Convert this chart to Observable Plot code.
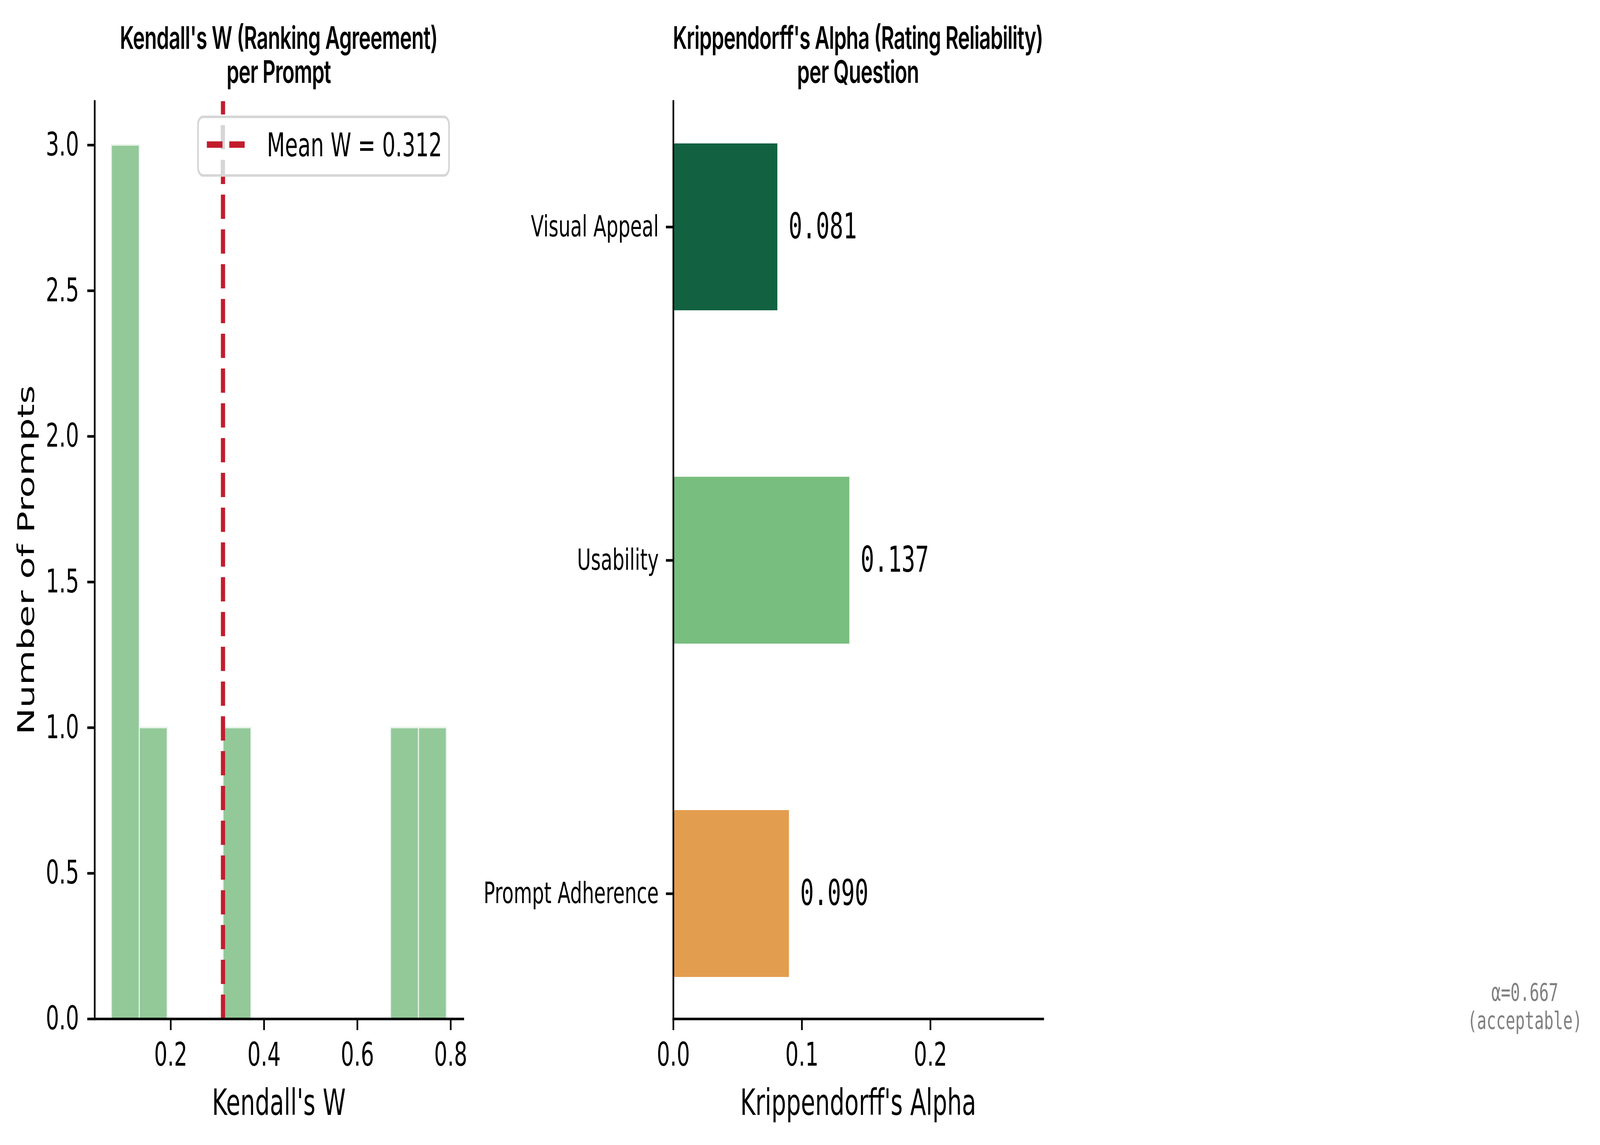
<!DOCTYPE html>
<html><head><meta charset="utf-8">
<script src="https://cdn.jsdelivr.net/npm/d3@7"></script>
<script src="https://cdn.jsdelivr.net/npm/@observablehq/plot@0.6"></script>
<style>
html,body{margin:0;padding:0;background:#fff;overflow:hidden;}
#root{position:relative;width:6343px;height:2930px;overflow:hidden;background:#fff;transform-origin:0 0;}
#root > svg{position:absolute;}
</style></head><body><div id="root"></div>
<script>
// ---- data ----
const kendallW = [0.073, 0.080, 0.095, 0.140, 0.320, 0.685, 0.791];
const histBinCount = 12;
const questions = ["Visual Appeal", "Usability", "Prompt Adherence"];
const alphaValues = [0.081, 0.137, 0.090];
const questionColors = ["#126241", "#78be7e", "#e39d4e"];
const wTicks = [0.2, 0.4, 0.6, 0.8];
const countTicks = [0, 0.5, 1, 1.5, 2, 2.5, 3];
const alphaTicks = [0, 0.1, 0.2];
const overallAlpha = 0.667;
const overallVerdict = "acceptable";
const leftTitle = ["Kendall's W (Ranking Agreement)", "per Prompt"];
const rightTitle = ["Krippendorff's Alpha (Rating Reliability)", "per Question"];

// ---- layout (in reference pixels) ----
const W = 6343, H = 2930;
const TOP = 259, BOTTOM = 2607;
const LW = 16.7, DASH = "62,27", RED = "#c21d2d", SPINE = 6.7;
const root = document.getElementById("root");
const f1 = d3.format(".1f"), f3 = d3.format(".3f");

const meanW = d3.mean(kendallW);
const [wMin, wMax] = d3.extent(kendallW);
const stepW = (wMax - wMin) / histBinCount;
const edges = d3.range(1, histBinCount).map(i => wMin + i * stepW);
const bins = d3.bin().domain([wMin, wMax]).thresholds(edges)(kendallW);
const padW = (wMax - wMin) * 0.05;
const yMax = d3.max(bins, b => b.length) * 1.05;

const baseStyle = {fontFamily: "DejaVu Sans", fontSize: "83px", background: "transparent", color: "black", overflow: "visible", maxWidth: "none"};

const left = Plot.plot({
  width: 1900, height: H,
  marginLeft: 375, marginRight: 64, marginTop: TOP, marginBottom: H - BOTTOM,
  style: baseStyle,
  x: {domain: [wMin - padW, wMax + padW]},
  y: {domain: [0, yMax]},
  marks: [
    Plot.rectY(bins, {x1: "x0", x2: "x1", y: b => b.length, fill: "#93c999", stroke: "#e9f4eb", strokeWidth: 4.2, inset: 0}),
    Plot.ruleX([meanW], {y1: 0, y2: yMax, stroke: RED, strokeWidth: LW, strokeDasharray: DASH}),
    Plot.frame({anchor: "left", strokeWidth: SPINE}),
    Plot.frame({anchor: "bottom", strokeWidth: SPINE}),
    Plot.axisX({ticks: wTicks, tickFormat: f1, tickSize: 29, tickPadding: 32, strokeWidth: SPINE, fontSize: 83, label: null}),
    Plot.axisY({ticks: countTicks, tickFormat: f1, tickSize: 29, tickPadding: 33, strokeWidth: SPINE, fontSize: 83, label: null})
  ]
});
left.style.left = "0px"; left.style.top = "0px";
root.appendChild(left);

const alphaData = questions.map((q, i) => ({question: q, alpha: alphaValues[i]}));
const right = Plot.plot({
  width: 2400, height: H,
  marginLeft: 769, marginRight: 165, marginTop: TOP, marginBottom: H - BOTTOM,
  style: baseStyle,
  x: {domain: [0, d3.max(alphaValues) * 2.1]},
  y: {domain: questions, paddingInner: 0.5, paddingOuter: 0.125},
  color: {domain: questions, range: questionColors},
  marks: [
    Plot.barX(alphaData, {x: "alpha", y: "question", fill: "question"}),
    Plot.text(alphaData, {x: "alpha", y: "question", text: d => f3(d.alpha), textAnchor: "start", dx: 44, fontFamily: "DejaVu Sans Mono", fontSize: 90, fill: "black"}),
    Plot.frame({anchor: "left", strokeWidth: SPINE}),
    Plot.frame({anchor: "bottom", strokeWidth: SPINE}),
    Plot.axisX({ticks: alphaTicks, tickFormat: f1, tickSize: 29, tickPadding: 32, strokeWidth: SPINE, fontSize: 83, label: null}),
    Plot.axisY({tickSize: 29, tickPadding: 29, strokeWidth: SPINE, fontSize: 75, label: null})
  ]
});
right.style.left = "1900px"; right.style.top = "0px";
root.appendChild(right);

// ---- overlay: titles, axis labels, legend, note ----
const NS = "http://www.w3.org/2000/svg";
const ov = document.createElementNS(NS, "svg");
ov.setAttribute("width", W); ov.setAttribute("height", H);
ov.style.left = "0px"; ov.style.top = "0px";
root.appendChild(ov);
function el(tag, attrs, parent = ov) {
  const e = document.createElementNS(NS, tag);
  for (const k in attrs) e.setAttribute(k, attrs[k]);
  parent.appendChild(e);
  return e;
}
function text(str, attrs) { const t = el("text", attrs); t.textContent = str; return t; }

const titleFont = {"font-family": "Inter", "font-weight": 600, "font-size": 80, "text-anchor": "middle", "lengthAdjust": "spacing"};
const lc = 1105.5, rc = 3402;
text(leftTitle[0], {...titleFont, x: lc, y: 125, textLength: 1261});
text(leftTitle[1], {...titleFont, x: lc, y: 212, textLength: 415});
text(rightTitle[0], {...titleFont, x: rc, y: 125, textLength: 1469});
text(rightTitle[1], {...titleFont, x: rc, y: 212, textLength: 484});

const labFont = {"font-family": "DejaVu Sans", "font-size": 92, "text-anchor": "middle"};
text("Kendall's W", {...labFont, x: lc, y: 2853});
text("Krippendorff's Alpha", {...labFont, x: rc, y: 2853});
text("Number of Prompts", {...labFont, x: 0, y: 0, transform: "translate(134,1433) rotate(-90)"});

// legend
const xm = left.scale("x").apply(meanW);
const lg = {x: 785, y: 299, w: 995, h: 150};
const defs = el("defs", {});
const cp = el("clipPath", {id: "lgclip"}, defs);
el("rect", {x: lg.x, y: lg.y, width: lg.w, height: lg.h, rx: 20}, cp);
el("rect", {x: lg.x, y: lg.y, width: lg.w, height: lg.h, rx: 20, fill: "white"});
el("line", {x1: xm, x2: xm, y1: BOTTOM, y2: TOP, stroke: "#d6d6d6", "stroke-width": LW, "stroke-dasharray": DASH, "clip-path": "url(#lgclip)"});
el("rect", {x: lg.x, y: lg.y, width: lg.w, height: lg.h, rx: 20, fill: "none", stroke: "#d6d6d6", "stroke-width": SPINE});
el("line", {x1: 820, x2: 970, y1: 370, y2: 370, stroke: RED, "stroke-width": LW, "stroke-dasharray": DASH});
text(`Mean W = ${f3(meanW)}`, {x: 1058, y: 400, "font-family": "DejaVu Sans", "font-size": 83});

// overall alpha note
const noteFont = {"font-family": "DejaVu Sans Mono", "font-size": 63, "text-anchor": "middle", fill: "#808080"};
text(`α=${f3(overallAlpha)}`, {...noteFont, x: 6045, y: 2561});
text(`(${overallVerdict})`, {...noteFont, x: 6045, y: 2633});

// the window may be narrower than the 6343×2930 design: map the design onto it
const sx = Math.min(1, innerWidth / W), sy = Math.min(1, innerHeight / H);
root.style.transform = `scale(${sx}, ${sy})`;
</script></body></html>
